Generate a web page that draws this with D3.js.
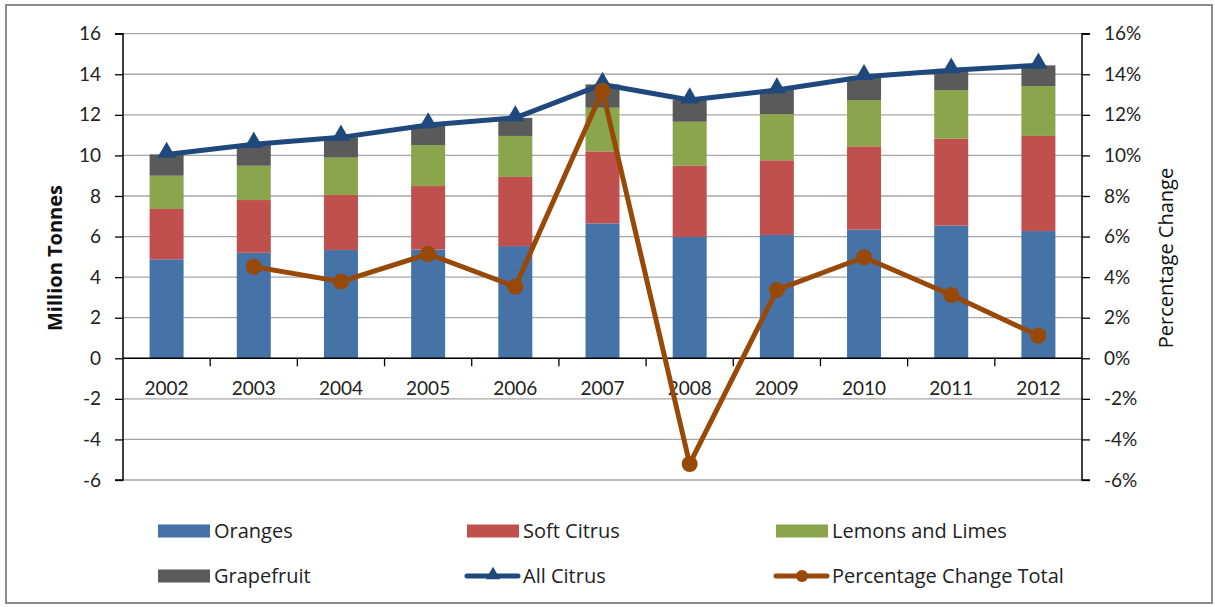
<!DOCTYPE html>
<html>
<head>
<meta charset="utf-8">
<script src="https://cdn.jsdelivr.net/npm/d3@7"></script>
<style>
  html, body { margin: 0; padding: 0; background: #fff; }
  svg { display: block; font-family: Lato, "Open Sans", sans-serif; }
</style>
</head>
<body>
<svg id="chart" width="1215" height="607"></svg>
<script>
// Citrus production, million tonnes, by year
const years = ["2002","2003","2004","2005","2006","2007","2008","2009","2010","2011","2012"];
const oranges    = [4.88, 5.20, 5.34, 5.36, 5.53, 6.65, 5.98, 6.08, 6.34, 6.54, 6.27];
const softCitrus = [2.48, 2.60, 2.71, 3.13, 3.41, 3.55, 3.51, 3.68, 4.11, 4.28, 4.69];
const lemonsLimes= [1.64, 1.69, 1.84, 2.02, 2.02, 2.15, 2.17, 2.28, 2.28, 2.40, 2.46];
const grapefruit = [1.05, 1.06, 1.00, 0.99, 0.89, 1.15, 1.07, 1.18, 1.15, 0.98, 1.02];
const allCitrus  = [10.05, 10.55, 10.89, 11.50, 11.85, 13.50, 12.73, 13.22, 13.88, 14.20, 14.44];
// Year-on-year change of the total, percent (none for the first year)
const pctChange  = [null, 4.51, 3.78, 5.14, 3.53, 13.19, -5.21, 3.37, 4.98, 3.12, 1.11];

const leftTicks  = [16, 14, 12, 10, 8, 6, 4, 2, 0, -2, -4, -6];
const rightTicks = [16, 14, 12, 10, 8, 6, 4, 2, 0, -2, -4, -6];

const seriesNames  = ["Oranges", "Soft Citrus", "Lemons and Limes", "Grapefruit"];
const seriesValues = [oranges, softCitrus, lemonsLimes, grapefruit];
const colors = {
  "Oranges": "#4572A7",
  "Soft Citrus": "#C0504D",
  "Lemons and Limes": "#8AA54C",
  "Grapefruit": "#5A5A5A",
  "All Citrus": "#1F497D",
  "Percentage Change Total": "#984807"
};

const svg = d3.select("#chart");
const plot = { left: 123, right: 1082, top: 33.7, bottom: 480 };

const x = d3.scaleBand().domain(years).range([plot.left, plot.right]).paddingInner(0.61).paddingOuter(0.305);
const xb = d3.scaleBand().domain(years).range([plot.left, plot.right]);
const y = d3.scaleLinear().domain([-6, 16]).range([plot.bottom, plot.top]);
const y2 = d3.scaleLinear().domain([-6, 16]).range([plot.bottom, plot.top]);

// outer frame
svg.append("rect").attr("x", 6).attr("y", 5).attr("width", 1206).attr("height", 598)
  .attr("fill", "none").attr("stroke", "#8C8C8C").attr("stroke-width", 2);

// horizontal gridlines
svg.append("g").selectAll("line").data(leftTicks).join("line")
  .attr("x1", plot.left).attr("x2", plot.right)
  .attr("y1", d => y(d)).attr("y2", d => y(d))
  .attr("stroke", "#A6A6A6").attr("stroke-width", 1.3);

// stacked bars
const rows = years.map((yr, i) => {
  const r = { year: yr };
  seriesNames.forEach((s, j) => r[s] = seriesValues[j][i]);
  return r;
});
const stacked = d3.stack().keys(seriesNames)(rows);
svg.append("g").selectAll("g").data(stacked).join("g")
  .attr("fill", d => colors[d.key])
  .selectAll("rect").data(d => d).join("rect")
  .attr("x", d => x(d.data.year))
  .attr("width", x.bandwidth())
  .attr("y", d => y(d[1]))
  .attr("height", d => y(d[0]) - y(d[1]));

// left axis
const leftAxis = d3.axisLeft(y).tickValues(leftTicks).tickSize(8).tickPadding(14).tickFormat(d => String(d));
const gl = svg.append("g").attr("transform", `translate(${plot.left},0)`).call(leftAxis);
gl.select(".domain").attr("stroke", "#000").attr("stroke-width", 1.5).attr("d", `M-8,${y(16)}H0V${y(-6)}H-8`);
gl.selectAll(".tick line").attr("stroke", "#000").attr("stroke-width", 1.3);
gl.selectAll(".tick text").attr("font-size", 19).attr("fill", "#222").attr("font-family", "Lato, sans-serif");

// right axis
const rightAxis = d3.axisRight(y2).tickValues(rightTicks).tickSize(8).tickPadding(14).tickFormat(d => d + "%");
const gr = svg.append("g").attr("transform", `translate(${plot.right},0)`).call(rightAxis);
gr.select(".domain").attr("stroke", "#000").attr("stroke-width", 1.5).attr("d", `M8,${y2(16)}H0V${y2(-6)}H8`);
gr.selectAll(".tick line").attr("stroke", "#000").attr("stroke-width", 1.3);
gr.selectAll(".tick text").attr("font-size", 19).attr("fill", "#222").attr("font-family", "Lato, sans-serif");

// category axis on the zero line
const zeroY = y(0);
svg.append("line").attr("x1", plot.left).attr("x2", plot.right).attr("y1", zeroY).attr("y2", zeroY)
  .attr("stroke", "#000").attr("stroke-width", 1.5);
svg.append("g").selectAll("line").data(years.slice(1)).join("line")
  .attr("x1", d => xb(d)).attr("x2", d => xb(d))
  .attr("y1", zeroY).attr("y2", zeroY + 8)
  .attr("stroke", "#000").attr("stroke-width", 1.3);
svg.append("g").selectAll("text").data(years).join("text")
  .attr("x", d => xb(d) + xb.bandwidth() / 2)
  .attr("y", zeroY + 37)
  .attr("text-anchor", "middle").attr("font-size", 19).attr("fill", "#222")
  .text(d => d);

// axis titles
svg.append("text").attr("transform", `translate(62,258) rotate(-90)`)
  .attr("text-anchor", "middle").attr("font-size", 20).attr("font-weight", "bold").attr("fill", "#111")
  .attr("font-family", "'Open Sans', sans-serif")
  .text("Million Tonnes");
svg.append("text").attr("transform", `translate(1173,258) rotate(-90)`)
  .attr("text-anchor", "middle").attr("font-size", 20).attr("fill", "#111")
  .attr("font-family", "'Open Sans', sans-serif")
  .text("Percentage Change");

const cx = i => xb(years[i]) + xb.bandwidth() / 2;

// All Citrus total line with triangle markers
const tri = d3.symbol().type(d3.symbolTriangle).size(150);
svg.append("path")
  .datum(allCitrus)
  .attr("fill", "none").attr("stroke", colors["All Citrus"]).attr("stroke-width", 5).attr("stroke-linejoin", "round")
  .attr("d", d3.line().x((d, i) => cx(i)).y(d => y(d)));
svg.append("g").selectAll("path").data(allCitrus).join("path")
  .attr("transform", (d, i) => `translate(${cx(i)},${y(d) - 2})`)
  .attr("d", tri).attr("fill", colors["All Citrus"]);

// Percentage change line with circle markers
const pctPts = pctChange.map((v, i) => ({ v, i })).filter(d => d.v !== null);
svg.append("path")
  .datum(pctPts)
  .attr("fill", "none").attr("stroke", colors["Percentage Change Total"]).attr("stroke-width", 5).attr("stroke-linejoin", "round")
  .attr("d", d3.line().x(d => cx(d.i)).y(d => y2(d.v)));
svg.append("g").selectAll("circle").data(pctPts).join("circle")
  .attr("cx", d => cx(d.i)).attr("cy", d => y2(d.v)).attr("r", 8)
  .attr("fill", colors["Percentage Change Total"]);

// legend
const legendItems = [
  { name: "Oranges", kind: "rect", col: 0, row: 0 },
  { name: "Soft Citrus", kind: "rect", col: 1, row: 0 },
  { name: "Lemons and Limes", kind: "rect", col: 2, row: 0 },
  { name: "Grapefruit", kind: "rect", col: 0, row: 1 },
  { name: "All Citrus", kind: "tri", col: 1, row: 1 },
  { name: "Percentage Change Total", kind: "circle", col: 2, row: 1 }
];
const colX = [158, 467, 776];
const rowY = [531, 576];
const lg = svg.append("g").selectAll("g").data(legendItems).join("g")
  .attr("transform", d => `translate(${colX[d.col]},${rowY[d.row]})`);
lg.filter(d => d.kind === "rect").append("rect")
  .attr("x", 0).attr("y", -6.5).attr("width", 52).attr("height", 13)
  .attr("fill", d => colors[d.name]);
lg.filter(d => d.kind !== "rect").append("line")
  .attr("x1", 0).attr("x2", 51).attr("y1", 0).attr("y2", 0)
  .attr("stroke", d => colors[d.name]).attr("stroke-width", 5).attr("stroke-linecap", "round");
lg.filter(d => d.kind === "tri").append("path")
  .attr("transform", "translate(26,-1)").attr("d", d3.symbol().type(d3.symbolTriangle).size(90))
  .attr("fill", d => colors[d.name]);
lg.filter(d => d.kind === "circle").append("circle")
  .attr("cx", 26).attr("cy", 0).attr("r", 6)
  .attr("fill", d => colors[d.name]);
lg.append("text").attr("x", 56).attr("y", 0).attr("dy", "0.36em")
  .attr("font-size", 20).attr("fill", "#222")
  .attr("font-family", "'Open Sans', sans-serif")
  .text(d => d.name);
</script>
</body>
</html>
